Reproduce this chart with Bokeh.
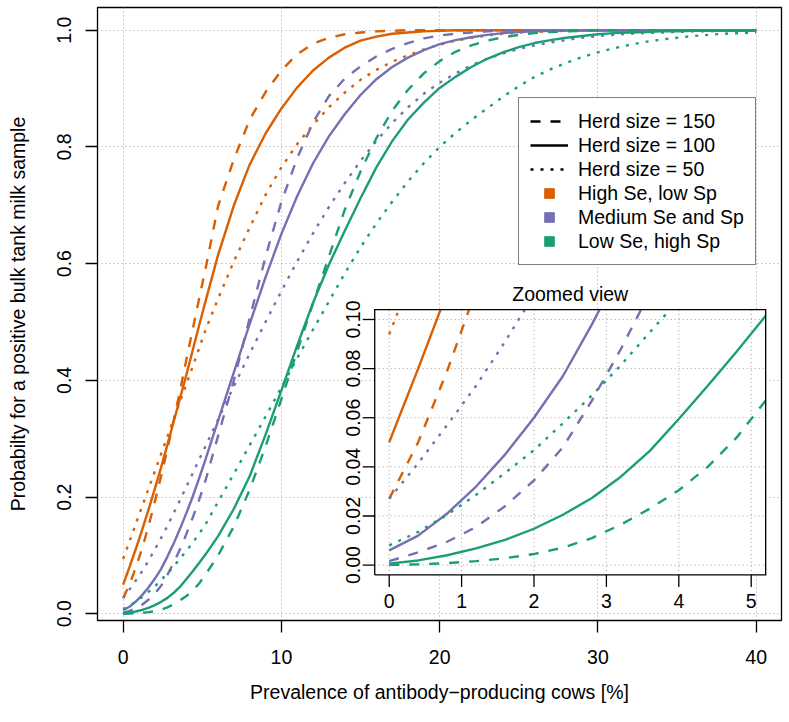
import numpy as np
from bokeh.plotting import figure
from bokeh.models import Range1d, FixedTicker, Legend, LegendItem, PrintfTickFormatter
from bokeh.embed import file_html
from bokeh.resources import INLINE
from bokeh.core.properties import value

# ---------------------------------------------------------------- data
# prevalence of antibody-producing cows [%]
prevalence = [0, 0.4, 0.8, 1.2, 1.6, 2.0, 2.4, 2.8, 3.2, 3.6, 4.0, 4.4, 4.8, 5.2,
              6, 7, 8, 9, 10, 11, 12, 13, 14, 15, 16, 17, 18, 19, 20, 21, 22, 23,
              24, 25, 26, 27, 28, 29, 30, 31, 32, 33, 34, 35, 36, 37, 38, 39, 40]

# High Se, low Sp
high_se_150 = [0.027, 0.050, 0.079, 0.112, 0.150, 0.192, 0.236, 0.283, 0.332, 0.383, 0.436, 0.488, 0.540, 0.590,
               0.699, 0.779, 0.847, 0.894, 0.931, 0.959, 0.977, 0.987, 0.993, 0.996, 0.998, 0.999,
               1.0, 1.0, 1.0, 1.0, 1.0, 1.0, 1.0, 1.0, 1.0, 1.0, 1.0, 1.0, 1.0, 1.0, 1.0, 1.0,
               1.0, 1.0, 1.0, 1.0, 1.0, 1.0, 1.0]
high_se_100 = [0.050, 0.080, 0.111, 0.144, 0.178, 0.214, 0.251, 0.290, 0.330, 0.370, 0.410, 0.452, 0.494, 0.535,
               0.615, 0.700, 0.770, 0.823, 0.866, 0.902, 0.931, 0.953, 0.970, 0.982, 0.989, 0.994,
               0.996, 0.998, 0.999, 1.0, 1.0, 1.0, 1.0, 1.0, 1.0, 1.0, 1.0, 1.0, 1.0, 1.0, 1.0, 1.0,
               1.0, 1.0, 1.0, 1.0, 1.0, 1.0, 1.0]
high_se_50 = [0.094, 0.124, 0.154, 0.184, 0.214, 0.244, 0.274, 0.304, 0.334, 0.364, 0.394, 0.424, 0.455, 0.486,
              0.540, 0.604, 0.662, 0.718, 0.765, 0.805, 0.838, 0.868, 0.893, 0.915, 0.932, 0.946,
              0.957, 0.967, 0.975, 0.982, 0.987, 0.991, 0.994, 0.996, 0.997, 0.998, 0.999, 1.0,
              1.0, 1.0, 1.0, 1.0, 1.0, 1.0, 1.0, 1.0, 1.0, 1.0, 1.0]

# Medium Se and Sp
med_se_150 = [0.0016, 0.0052, 0.0095, 0.0155, 0.024, 0.0345, 0.048, 0.067, 0.088, 0.111, 0.137, 0.165, 0.195, 0.228,
              0.305, 0.400, 0.507, 0.612, 0.706, 0.781, 0.842, 0.887, 0.917, 0.938, 0.955, 0.968,
              0.978, 0.986, 0.991, 0.994, 0.996, 0.998, 0.999, 1.0, 1.0, 1.0, 1.0, 1.0, 1.0, 1.0,
              1.0, 1.0, 1.0, 1.0, 1.0, 1.0, 1.0, 1.0, 1.0]
med_se_100 = [0.006, 0.012, 0.021, 0.032, 0.045, 0.060, 0.077, 0.098, 0.121, 0.146, 0.173, 0.201, 0.232, 0.264,
              0.331, 0.414, 0.497, 0.577, 0.651, 0.716, 0.772, 0.818, 0.856, 0.889, 0.916, 0.937,
              0.953, 0.966, 0.976, 0.983, 0.988, 0.992, 0.995, 0.997, 0.998, 0.999, 1.0, 1.0, 1.0,
              1.0, 1.0, 1.0, 1.0, 1.0, 1.0, 1.0, 1.0, 1.0, 1.0]
med_se_50 = [0.027, 0.0415, 0.057, 0.073, 0.091, 0.110, 0.130, 0.151, 0.173, 0.195, 0.218, 0.241, 0.264, 0.287,
             0.333, 0.390, 0.446, 0.500, 0.553, 0.604, 0.652, 0.697, 0.738, 0.776, 0.810, 0.841,
             0.868, 0.891, 0.910, 0.926, 0.940, 0.951, 0.960, 0.968, 0.974, 0.979, 0.983, 0.987,
             0.990, 0.992, 0.994, 0.995, 0.996, 0.997, 0.998, 0.998, 0.999, 0.999, 0.999]

# Low Se, high Sp
low_se_150 = [0.0001, 0.0003, 0.0008, 0.0016, 0.0028, 0.0045, 0.0071, 0.011, 0.0165, 0.023, 0.0305, 0.040, 0.052, 0.067,
              0.100, 0.150, 0.213, 0.287, 0.368, 0.450, 0.532, 0.612, 0.692, 0.758, 0.815, 0.862,
              0.898, 0.926, 0.947, 0.963, 0.974, 0.982, 0.988, 0.992, 0.995, 0.997, 0.998, 0.999,
              1.0, 1.0, 1.0, 1.0, 1.0, 1.0, 1.0, 1.0, 1.0, 1.0, 1.0]
low_se_100 = [0.0006, 0.0019, 0.0040, 0.0068, 0.0103, 0.0148, 0.0205, 0.0273, 0.036, 0.0465, 0.0595, 0.073, 0.087, 0.1015,
              0.133, 0.180, 0.236, 0.307, 0.383, 0.460, 0.533, 0.598, 0.656, 0.712, 0.765, 0.810,
              0.847, 0.876, 0.901, 0.920, 0.937, 0.951, 0.962, 0.971, 0.978, 0.983, 0.987, 0.990,
              0.993, 0.995, 0.996, 0.997, 0.998, 0.998, 0.999, 0.999, 1.0, 1.0, 1.0]
low_se_50 = [0.008, 0.0135, 0.0205, 0.0286, 0.0375, 0.0468, 0.0578, 0.0691, 0.0814, 0.0948, 0.108, 0.122, 0.137, 0.153,
             0.192, 0.240, 0.289, 0.338, 0.388, 0.438, 0.487, 0.535, 0.583, 0.628, 0.669, 0.706,
             0.741, 0.772, 0.800, 0.824, 0.846, 0.866, 0.886, 0.904, 0.920, 0.933, 0.944, 0.954,
             0.962, 0.969, 0.975, 0.980, 0.984, 0.987, 0.990, 0.992, 0.994, 0.995, 0.996]

scenario_labels = ["High Se, low Sp", "Medium Se and Sp", "Low Se, high Sp"]
herd_labels = ["Herd size = 150", "Herd size = 100", "Herd size = 50"]

main_x_ticks = [0, 10, 20, 30, 40]
main_y_ticks = [0.0, 0.2, 0.4, 0.6, 0.8, 1.0]
inset_x_ticks = [0, 1, 2, 3, 4, 5]
inset_x_labels = ["0", "1", "2", "3", "4", "5"]
inset_y_ticks = [0.0, 0.02, 0.04, 0.06, 0.08, 0.10]
inset_y_labels = ["0.00", "0.02", "0.04", "0.06", "0.08", "0.10"]

# ---------------------------------------------------------------- style
FONT = "Liberation Sans"
FS = "19.5px"
ORANGE, PURPLE, GREEN = "#D95F02", "#7570B3", "#1B9E77"
GRID_COLOR = "#9E9E9E"
LW = 2.4
DASH = {150: "10 10", 100: "solid", 50: "3 7"}
NAN = float("nan")

curves = [
    (high_se_150, ORANGE, 150), (high_se_100, ORANGE, 100), (high_se_50, ORANGE, 50),
    (med_se_150, PURPLE, 150), (med_se_100, PURPLE, 100), (med_se_50, PURPLE, 50),
    (low_se_150, GREEN, 150), (low_se_100, GREEN, 100), (low_se_50, GREEN, 50),
]

FRAME_W, FRAME_H = 684, 613
p = figure(width=789, height=722,
           x_range=Range1d(-1.62, 41.6), y_range=Range1d(-0.01148, 1.0389),
           output_backend="svg", toolbar_location=None,
           min_border_left=97, min_border_right=8, min_border_top=7, min_border_bottom=102)
p.background_fill_color = "white"
p.border_fill_color = "white"
p.outline_line_color = "black"
p.outline_line_width = 1.3

# axes, R style: ticks outside, box drawn by the outline
xa, ya = p.xaxis[0], p.yaxis[0]
xa.ticker = FixedTicker(ticks=main_x_ticks)
ya.ticker = FixedTicker(ticks=main_y_ticks)
xa.formatter = PrintfTickFormatter(format="%d")
ya.formatter = PrintfTickFormatter(format="%.1f")
for ax in (xa, ya):
    ax.axis_line_color = None
    ax.major_tick_line_color = "black"
    ax.major_tick_line_width = 1.3
    ax.major_tick_out = 12
    ax.major_tick_in = 0
    ax.minor_tick_line_color = None
    ax.major_label_text_font = FONT
    ax.major_label_text_font_size = FS
    ax.major_label_text_color = "black"
    ax.axis_label_text_font = FONT
    ax.axis_label_text_font_size = FS
    ax.axis_label_text_font_style = "normal"
    ax.axis_label_text_color = "black"
xa.axis_label = "Prevalence of antibody\u2212producing cows [%]"
ya.axis_label = "Probabilty for a positive bulk tank milk sample"
ya.major_label_orientation = "vertical"
xa.major_label_standoff = 17
xa.axis_label_standoff = 14
ya.major_label_standoff = 14
ya.axis_label_standoff = 26

for g, ticks in ((p.xgrid[0], main_x_ticks), (p.ygrid[0], main_y_ticks)):
    g.ticker = FixedTicker(ticks=ticks)
    g.grid_line_color = GRID_COLOR
    g.grid_line_dash = "1 3"
    g.grid_line_width = 1

# main curves
for ys, col, herd in curves:
    p.line(prevalence, ys, line_color=col, line_width=LW, line_dash=DASH[herd], line_cap="butt")

# legend keys: renderers holding a single empty (NaN) row, so only the key is drawn
key_lines = [p.line([NAN], [NAN], line_color="black", line_width=LW, line_dash=DASH[h], line_cap="butt")
             for h in (150, 100, 50)]
key_boxes = [p.scatter([NAN], [NAN], marker="square", size=9, fill_color=c, line_color=c)
             for c in (ORANGE, PURPLE, GREEN)]
items = [LegendItem(label=l, renderers=[r]) for l, r in zip(herd_labels, key_lines)]
items += [LegendItem(label=l, renderers=[r]) for l, r in zip(scenario_labels, key_boxes)]
legend = Legend(items=items, location=(421, 355))
legend.border_line_color = "black"
legend.border_line_width = 1.2
legend.background_fill_color = "white"
legend.background_fill_alpha = 1.0
legend.label_text_font = FONT
legend.label_text_font_size = FS
legend.label_text_color = "black"
legend.glyph_width = 38
legend.glyph_height = 24
legend.label_height = 24
legend.label_standoff = 10
legend.padding = 11
legend.spacing = 0
legend.margin = 0
p.add_layout(legend)

# ---------------------------------------------------------------- inset
IX = Range1d(-4.029, 5.4185)
IY = Range1d(-0.022557, 0.227036)
p.extra_x_ranges = {"ix": IX}
p.extra_y_ranges = {"iy": IY}
INSET_X = (-0.2, 5.2)
INSET_Y = (-0.004, 0.104)
kw = dict(x_range_name="ix", y_range_name="iy")
px_x = (IX.end - IX.start) / FRAME_W
px_y = (IY.end - IY.start) / FRAME_H

# white panel hiding the main plot underneath
p.quad(left=INSET_X[0], right=INSET_X[1], bottom=INSET_Y[0], top=INSET_Y[1],
       fill_color="white", line_color=None, **kw)

# inset grid
p.segment(x0=inset_x_ticks, x1=inset_x_ticks, y0=[INSET_Y[0]] * 6, y1=[INSET_Y[1]] * 6,
          line_color=GRID_COLOR, line_dash="1 3", line_width=1, **kw)
p.segment(x0=[INSET_X[0]] * 6, x1=[INSET_X[1]] * 6, y0=inset_y_ticks, y1=inset_y_ticks,
          line_color=GRID_COLOR, line_dash="1 3", line_width=1, **kw)


def clip_top(xs, ys, top):
    """Cut an increasing polyline where it leaves the top of the inset box."""
    out_x, out_y = [], []
    for i, (x, y) in enumerate(zip(xs, ys)):
        if y <= top:
            out_x.append(x)
            out_y.append(y)
        else:
            if i > 0:
                t = (top - ys[i - 1]) / (y - ys[i - 1])
                out_x.append(xs[i - 1] + t * (x - xs[i - 1]))
                out_y.append(top)
            break
    return out_x, out_y


inset_n = sum(1 for x in prevalence if x <= INSET_X[1])
for ys, col, herd in curves:
    cx, cy = clip_top(prevalence[:inset_n], ys[:inset_n], INSET_Y[1])
    p.line(cx, cy, line_color=col, line_width=LW, line_dash=DASH[herd], line_cap="butt", **kw)

# frame of the inset
p.line(x=[INSET_X[0], INSET_X[1], INSET_X[1], INSET_X[0], INSET_X[0]],
       y=[INSET_Y[0], INSET_Y[0], INSET_Y[1], INSET_Y[1], INSET_Y[0]],
       line_color="black", line_width=1.3, line_join="miter", **kw)

# inset axes
tick_len_y = 12 * px_y
tick_len_x = 12 * px_x
p.segment(x0=inset_x_ticks, x1=inset_x_ticks, y0=[INSET_Y[0]] * 6, y1=[INSET_Y[0] - tick_len_y] * 6,
          line_color="black", line_width=1.3, **kw)
p.segment(x0=[INSET_X[0]] * 6, x1=[INSET_X[0] - tick_len_x] * 6, y0=inset_y_ticks, y1=inset_y_ticks,
          line_color="black", line_width=1.3, **kw)
p.text(x=inset_x_ticks, y=[INSET_Y[0]] * 6, text=inset_x_labels, y_offset=26,
       text_font=value(FONT), text_font_size=value(FS), text_color="black",
       text_align="center", text_baseline="middle", **kw)
p.text(x=[INSET_X[0]] * 6, y=inset_y_ticks, text=inset_y_labels, x_offset=-22, angle=np.pi / 2,
       text_font=value(FONT), text_font_size=value(FS), text_color="black",
       text_align="center", text_baseline="middle", **kw)
p.text(x=[(INSET_X[0] + INSET_X[1]) / 2], y=[INSET_Y[1]], text=["Zoomed view"], y_offset=-16,
       text_font=value(FONT), text_font_size=value(FS), text_color="black",
       text_align="center", text_baseline="middle", **kw)

open("out.html", "w").write(file_html(p, INLINE))
